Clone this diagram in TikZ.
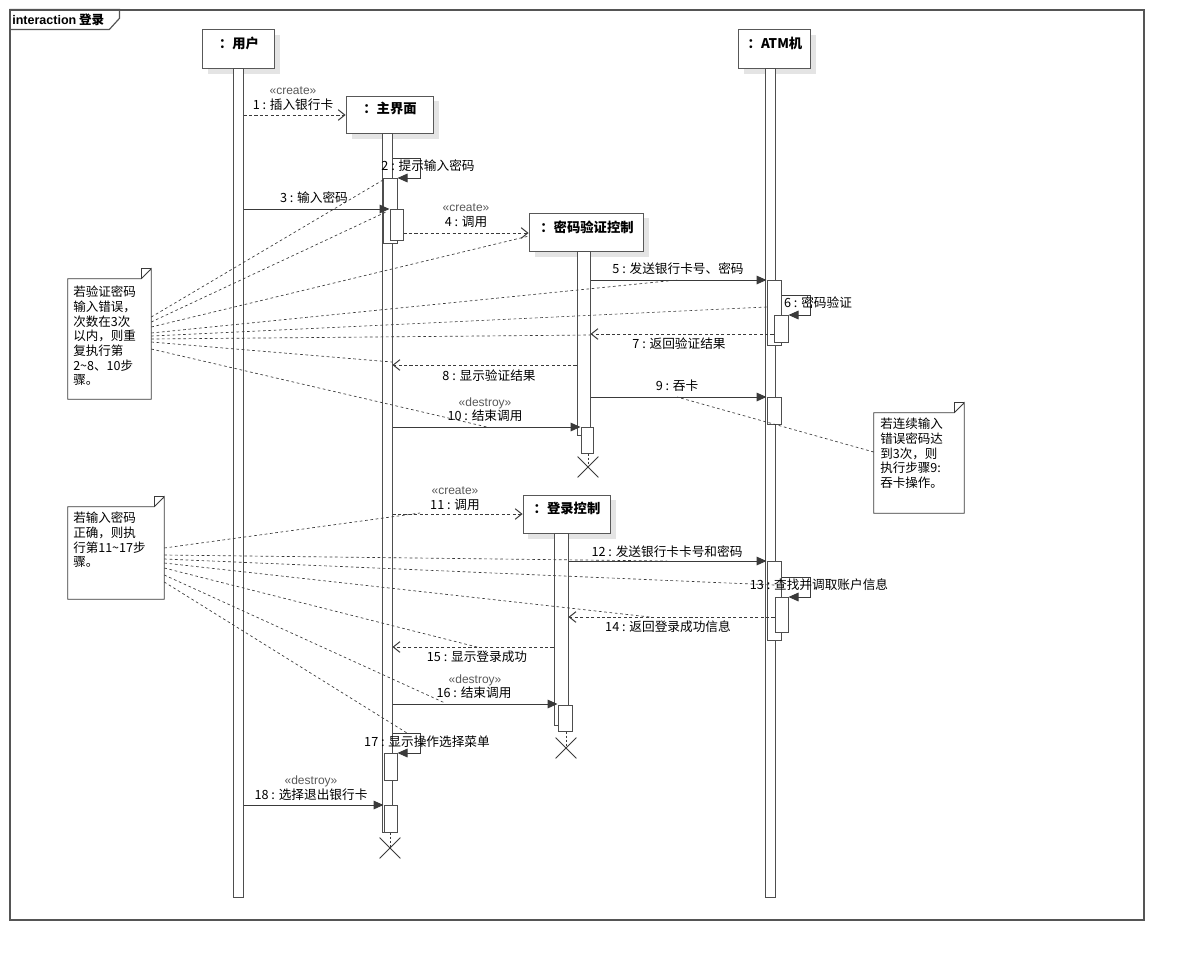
\documentclass[tikz,border=0pt]{standalone}
\usepackage{fontspec}
\setmainfont{Noto Sans CJK SC}
\newfontfamily\lat{Liberation Sans}
\usetikzlibrary{arrows.meta,fit,shapes.misc}
\newcommand\fl{\fontsize{9.5}{11}\selectfont}
\newcommand\fst{\lat\fontsize{9}{11}\selectfont}
\newcommand\fh{\bfseries\fontsize{10}{12}\selectfont}
\newcommand\fnt{\fontsize{9.4}{11}\selectfont}
\definecolor{ln}{HTML}{3A3A3A}
\definecolor{fr}{HTML}{555555}
\definecolor{sh}{HTML}{E4E4E4}
\begin{document}
\begin{tikzpicture}[x=0.75pt,y=-0.75pt,
  frm/.style={draw=fr, line width=0.9pt},
  head/.style={draw=ln!85, fill=white, line width=0.65pt, inner sep=0pt},
  act/.style={draw=ln!90, fill=white, line width=0.75pt, inner sep=0pt},
  shd/.style={fill=sh, draw=none},
  htxt/.style={font=\fh, inner sep=0pt},
  lbl/.style={font=\fl, inner sep=0pt},
  ster/.style={font=\fst, text=black!65, inner sep=0pt},
  msg/.style={draw=ln, line width=0.75pt, -{Triangle[length=7.5pt,width=6.5pt]}},
  ret/.style={draw=ln, line width=0.75pt, dash pattern=on 2.3pt off 1.8pt, -{Straight Barb[length=5pt,width=8pt]}},
  fan/.style={draw=ln, line width=0.5pt, dash pattern=on 2pt off 2pt},
  notebox/.style={inner sep=0pt},
  notetxt/.style={font=\fnt, align=left, inner sep=0pt, anchor=north west},
  xmark/.style={draw=ln, cross out, line width=0.6pt, minimum size=15pt, inner sep=0pt},
  lif/.style={draw=ln, line width=0.5pt, dash pattern=on 1.5pt off 1.5pt}
]
\useasboundingbox (0,0) rectangle (1184,961);
\fill[white] (0,0) rectangle (1184,961);

% frame
\node[frm, inner sep=0pt, fit={(10,10) (1144,920)}] (frame) {};
\draw[frm] (frame.north west) -- ++(110,0) -- ++(0,9) -- ++(-10,11) -- ++(-100,0);
\node[anchor=west, inner sep=0pt, font=\fontsize{9.4}{11}\selectfont] (ftitle) at (12,20) {{\lat\bfseries interaction} \bfseries 登录};

% lifeline heads
\fill[shd] (208,35) rectangle (280,74);
\node[head, fit={(202,29) (274,68)}] (uh) {};
\node[htxt] (uht) at (239,43) {：用户};
\fill[shd] (744,35) rectangle (816,74);
\node[head, fit={(738,29) (810,68)}] (ah) {};
\node[htxt] (aht) at (775,43) {：ATM机};
\fill[shd] (352,101) rectangle (439,139);
\node[head, fit={(346,96) (433,133)}] (mh) {};
\node[htxt] (mht) at (390,108) {：主界面};
\fill[shd] (535,218) rectangle (649,257);
\node[head, fit={(529,213) (643,251)}] (ph) {};
\node[htxt] (pht) at (587,227) {：密码验证控制};
\fill[shd] (528,500) rectangle (616,539);
\node[head, fit={(523,495) (610,533)}] (lh) {};
\node[htxt] (lht) at (567,508) {：登录控制};

% lifeline bars
\node[act, fit={(233,68) (243,897)}] (ub) {};
\node[act, fit={(765,68) (775,897)}] (ab) {};
\node[act, fit={(382,133) (392,832)}] (mb) {};
\node[act, fit={(577,251) (590,435)}] (pb) {};
\node[act, fit={(554,533) (568,725)}] (lb) {};
% nested activations
\node[act, fit={(383,178) (397,243)}] (m2) {};
\node[act, fit={(390,209) (403,240)}] (m3) {};
\node[act, fit={(767,280) (781,345)}] (a5) {};
\node[act, fit={(774,315) (788,342)}] (a6) {};
\node[act, fit={(767,397) (781,424)}] (a9) {};
\node[act, fit={(581,427) (593,453)}] (p10) {};
\node[act, fit={(767,561) (781,640)}] (a12) {};
\node[act, fit={(775,597) (788,632)}] (a13) {};
\node[act, fit={(558,705) (572,731)}] (l16) {};
\node[act, fit={(384,753) (397,780)}] (m17) {};
\node[act, fit={(384,805) (397,832)}] (m18) {};

% destroy marks
\node[xmark] (xp) at (588,467) {};
\node[xmark] (xl) at (566,748) {};
\node[xmark] (xm) at (390,848) {};
\draw[lif] (p10.south -| xp) -- (xp.center);
\draw[lif] (l16.south -| xl) -- (xl.center);
\draw[lif] (m18.south -| xm) -- (xm.center);

% messages
\draw[ret] (ub.east |- 0,115) -- (mh.west |- 0,115);
\node[ster] (s1) at (293,91) {«create»};
\node[lbl] (l1) at (293,105) {1 : 插入银行卡};

\draw[msg] (mb.east |- 0,158) -- ++(28,0) -- ++(0,20) -- (m2.east |- 0,178);
\node[lbl] (l2) at (428,166) {2 : 提示输入密码};

\draw[msg] (ub.east |- 0,209) -- (m3.west |- 0,209);
\node[lbl] (l3) at (314,198) {3 : 输入密码};

\draw[ret] (m3.east |- 0,233) -- (ph.west |- 0,233);
\node[ster] (s4) at (466,208) {«create»};
\node[lbl] (l4) at (466,222) {4 : 调用};

\draw[msg] (pb.east |- 0,280) -- (a5.west |- 0,280);
\node[lbl] (l5) at (678,269) {5 : 发送银行卡号、密码};

\draw[msg] (a5.east |- 0,295) -- ++(29,0) -- ++(0,20) -- (a6.east |- 0,315);
\node[lbl] (l6) at (818,303) {6 : 密码验证};

\draw[ret] (a6.west |- 0,334) -- (pb.east |- 0,334);
\node[lbl] (l7) at (679,344) {7 : 返回验证结果};

\draw[ret] (pb.west |- 0,365) -- (mb.east |- 0,365);
\node[lbl] (l8) at (489,376) {8 : 显示验证结果};

\draw[msg] (pb.east |- 0,397) -- (a9.west |- 0,397);
\node[lbl] (l9) at (677,386) {9 : 吞卡};

\draw[msg] (mb.east |- 0,427) -- (p10.west |- 0,427);
\node[ster] (s10) at (485,403) {«destroy»};
\node[lbl] (l10) at (485,416) {10 : 结束调用};

\draw[ret] (mb.east |- 0,514) -- (lh.west |- 0,514);
\node[ster] (s11) at (455,491) {«create»};
\node[lbl] (l11) at (455,505) {11 : 调用};

\draw[msg] (lb.east |- 0,561) -- (a12.west |- 0,561);
\node[lbl] (l12) at (667,552) {12 : 发送银行卡卡号和密码};

\draw[msg] (a12.east |- 0,577) -- ++(29,0) -- ++(0,20) -- (a13.east |- 0,597);
\node[lbl] (l13) at (819,585) {13 : 查找并调取账户信息};

\draw[ret] (a13.west |- 0,617) -- (lb.east |- 0,617);
\node[lbl] (l14) at (668,627) {14 : 返回登录成功信息};

\draw[ret] (lb.west |- 0,647) -- (mb.east |- 0,647);
\node[lbl] (l15) at (477,657) {15 : 显示登录成功};

\draw[msg] (mb.east |- 0,704) -- (l16.west |- 0,704);
\node[ster] (s16) at (475,680) {«destroy»};
\node[lbl] (l16t) at (474,693) {16 : 结束调用};

\draw[msg] (mb.east |- 0,733) -- ++(28,0) -- ++(0,20) -- (m17.east |- 0,753);
\node[lbl] (l17) at (427,742) {17 : 显示操作选择菜单};

\draw[msg] (ub.east |- 0,805) -- (m18.west |- 0,805);
\node[ster] (s18) at (311,781) {«destroy»};
\node[lbl] (l18) at (311,795) {18 : 选择退出银行卡};

% notes
\node[notebox, fit={(68,279) (151,399)}] (n1) {};
\draw[draw=ln, line width=0.7pt, fill=white] (n1.north west) -- ([xshift=-7.5pt]n1.north east) -- ([yshift=7.5pt]n1.north east) -- (n1.south east) -- (n1.south west) -- cycle;
\draw[draw=ln, line width=0.5pt] ([xshift=-7.5pt]n1.north east) -- ([xshift=-7.5pt,yshift=7.5pt]n1.north east) -- ([yshift=7.5pt]n1.north east);
\node[notetxt] (n1t) at (73,286) {若验证密码\\输入错误，\\次数在3次\\以内，则重\\复执行第\\2\textasciitilde 8、10步\\骤。};

\node[notebox, fit={(68,507) (164,599)}] (n2) {};
\draw[draw=ln, line width=0.7pt, fill=white] (n2.north west) -- ([xshift=-7.5pt]n2.north east) -- ([yshift=7.5pt]n2.north east) -- (n2.south east) -- (n2.south west) -- cycle;
\draw[draw=ln, line width=0.5pt] ([xshift=-7.5pt]n2.north east) -- ([xshift=-7.5pt,yshift=7.5pt]n2.north east) -- ([yshift=7.5pt]n2.north east);
\node[notetxt] (n2t) at (73,512) {若输入密码\\正确，则执\\行第11\textasciitilde 17步\\骤。};

\node[notebox, fit={(874,413) (964,513)}] (n3) {};
\draw[draw=ln, line width=0.7pt, fill=white] (n3.north west) -- ([xshift=-7.5pt]n3.north east) -- ([yshift=7.5pt]n3.north east) -- (n3.south east) -- (n3.south west) -- cycle;
\draw[draw=ln, line width=0.5pt] ([xshift=-7.5pt]n3.north east) -- ([xshift=-7.5pt,yshift=7.5pt]n3.north east) -- ([yshift=7.5pt]n3.north east);
\node[notetxt] (n3t) at (880,418) {若连续输入\\错误密码达\\到3次，则\\执行步骤9:\\吞卡操作。};

% note anchors (targets)
\coordinate (t2) at (383,180);
\coordinate (t3) at (386,212);
\coordinate (t4) at (529,236);
\coordinate (t5) at (677,280);
\coordinate (t6) at (767,307);
\coordinate (t7) at (590,335);
\coordinate (t8) at (392,362);
\coordinate (t10) at (487,427);
\coordinate (t11) at (420,513);
\coordinate (t12) at (667,561);
\coordinate (t13) at (775,585);
\coordinate (t14) at (650,617);
\coordinate (t15) at (477,647);
\coordinate (t16) at (445,703);
\coordinate (t17) at (407,733);
\coordinate (t9) at (677,397);

\draw[fan] (n1.east |- 0,317) -- (t2);
\draw[fan] (n1.east |- 0,322) -- (t3);
\draw[fan] (n1.east |- 0,327) -- (t4);
\draw[fan] (n1.east |- 0,333) -- (t5);
\draw[fan] (n1.east |- 0,336) -- (t6);
\draw[fan] (n1.east |- 0,339) -- (t7);
\draw[fan] (n1.east |- 0,342) -- (t8);
\draw[fan] (n1.east |- 0,349) -- (t10);

\draw[fan] (n2.east |- 0,548) -- (t11);
\draw[fan] (n2.east |- 0,555) -- (t12);
\draw[fan] (n2.east |- 0,559) -- (t13);
\draw[fan] (n2.east |- 0,563) -- (t14);
\draw[fan] (n2.east |- 0,568) -- (t15);
\draw[fan] (n2.east |- 0,575) -- (t16);
\draw[fan] (n2.east |- 0,582) -- (t17);

\draw[fan] (n3.west |- 0,452) -- (t9);
\end{tikzpicture}
\end{document}
